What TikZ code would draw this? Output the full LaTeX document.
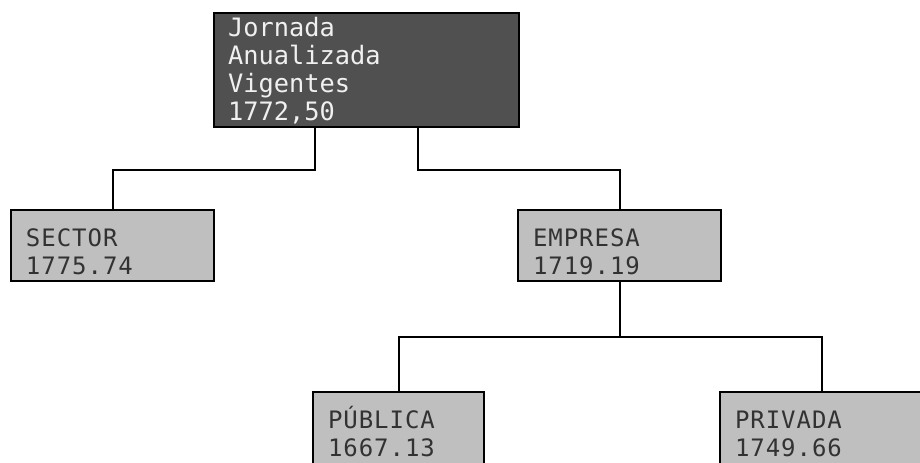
\documentclass[tikz,border=0pt]{standalone}
\usepackage{fontspec}
\usepackage{tikz}
\usetikzlibrary{calc}
\newfontfamily\boxfont[LetterSpace=4]{DejaVu Sans Mono}
\newfontfamily\headfont{DejaVu Sans Mono}
\definecolor{headfill}{RGB}{80,80,80}
\definecolor{headtext}{RGB}{240,240,240}
\definecolor{datafill}{RGB}{191,191,191}
\definecolor{datatext}{RGB}{50,50,50}

\begin{document}
\begin{tikzpicture}[x=0.75pt,y=0.75pt,yscale=-1,xscale=1,
  every node/.style={font=\boxfont\fontsize{18}{21}\selectfont},
  headbox/.style={draw=black, line width=1.5pt, fill=headfill, text=headtext, font=\headfont\fontsize{19}{21}\selectfont, anchor=north west, align=left, inner xsep=10.5pt, inner ysep=0pt, text width=207.75pt, text height=17.25pt, text depth=68.25pt},
  databox/.style={draw=black, line width=1.5pt, fill=datafill, text=datatext, anchor=north west, align=left, inner xsep=11.25pt, inner ysep=0pt, text width=129.75pt, text height=27pt, text depth=26.25pt},
  link/.style={draw=black, line width=1.5pt}
]
%set diagram frame: 920 x 462
\fill[white] (0,0) rectangle (920,462);
\path[use as bounding box, clip] (0,0) rectangle (920,462);

%Shape: Rectangle [top]
\node[headbox] (jornada) at (213,12) {Jornada\\Anualizada\\Vigentes\\1772,50};

%Shape: Rectangle [second row]
\node[databox] (sector) at (10,209) {SECTOR\\1775.74};
\node[databox] (empresa) at (517,209) {EMPRESA\\1719.19};

%Shape: Rectangle [third row, cut by the frame]
\node[databox, text width=105.75pt, text depth=36pt] (publica) at (312,391) {PÚBLICA\\1667.13};
\node[databox, text depth=36pt] (privada) at (719,391) {PRIVADA\\1749.66};

%Straight Lines
\draw[link] ($(jornada.south west)!0.333!(jornada.south east)$) -- ++(0,42) -| (sector.north);
\draw[link] ($(jornada.south west)!0.667!(jornada.south east)$) -- ++(0,42) -| (empresa.north);

%Straight Lines
\draw[link] (empresa.south) -- ++(0,55) -| (publica.north);
\draw[link] (empresa.south) -- ++(0,55) -| (privada.north);

\end{tikzpicture}
\end{document}
